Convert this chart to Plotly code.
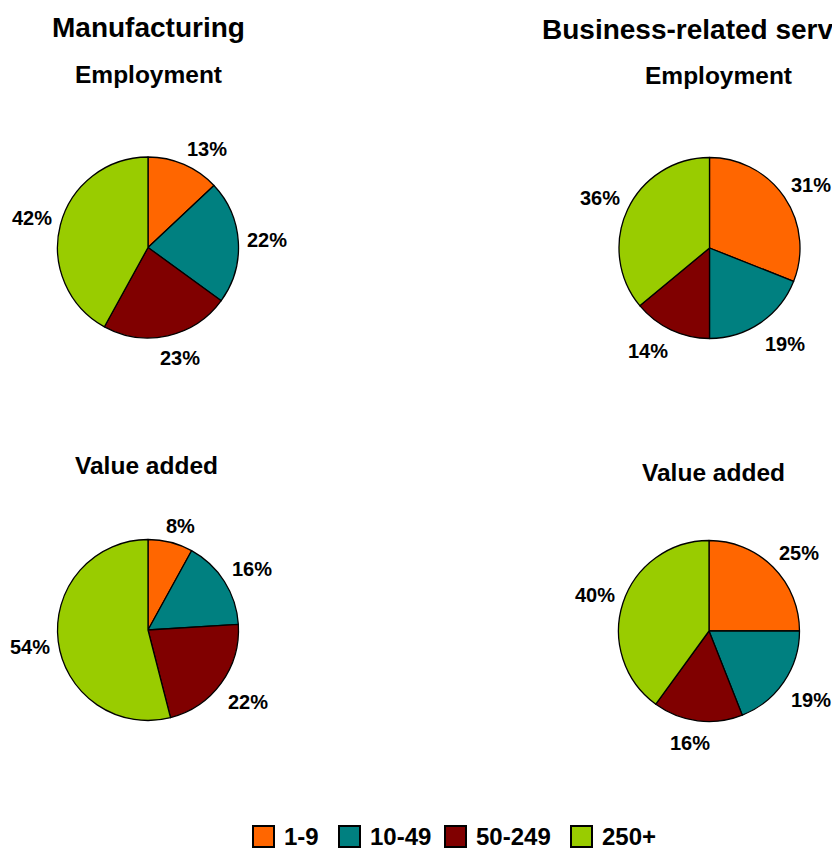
import math
import plotly.graph_objects as go

# Size classes (number of persons employed) and their colours
size_classes = ["1-9", "10-49", "50-249", "250+"]
class_colors = ["#FF6600", "#008080", "#800000", "#99CC00"]

# Shares by size class, in percent
manuf_employment = [13, 22, 23, 42]
manuf_value_added = [8, 16, 22, 54]
services_employment = [31, 19, 14, 36]
services_value_added = [25, 19, 16, 40]

W, H = 832, 849
R = 90.5
FONT = "Liberation Sans, Arial, sans-serif"


def px_x(x):
    return x / W


def px_y(y):
    return 1 - y / H


def soft_sign(v, k=2.5):
    return max(-1.0, min(1.0, v * k))


# pie placement in pixels: (values, centre x, centre y)
pies = [
    (manuf_employment, 148, 247.5),
    (services_employment, 709.5, 248),
    (manuf_value_added, 148, 630),
    (services_value_added, 709, 631),
]

fig = go.Figure()
annotations = []

for values, cx, cy in pies:
    fig.add_trace(go.Pie(
        labels=size_classes,
        values=values,
        sort=False,
        direction="clockwise",
        rotation=0,
        marker=dict(colors=class_colors, line=dict(color="#000000", width=1.3)),
        textinfo="none",
        hoverinfo="label+percent",
        showlegend=False,
        domain=dict(x=[px_x(cx - R), px_x(cx + R)],
                    y=[px_y(cy + R), px_y(cy - R)]),
    ))
    # percentage labels just outside each slice, box corner pointing at the pie
    total = sum(values)
    start = 0.0
    for v in values:
        mid = (start + v / 2) / total * 2 * math.pi
        start += v
        s, c = math.sin(mid), math.cos(mid)
        text = f"{v}%"
        hw = 6.4 * len(text)
        hh = 7 if c > 0 else 13
        lx = cx + (R + 9.5) * s + hw * soft_sign(s)
        ly = cy - (R + 9.5) * c + hh * soft_sign(-c)
        annotations.append(dict(
            x=px_x(lx), y=px_y(ly), xref="paper", yref="paper",
            text=f"<b>{text}</b>", showarrow=False,
            xanchor="center", yanchor="middle",
            font=dict(family=FONT, size=20, color="#000000"),
        ))

# headings
headings = [
    ("Manufacturing", 148, 27, 28, "center"),
    ("Business-related services", 540, 29, 28, "left"),
    ("Employment", 148, 75, 24.5, "center"),
    ("Employment", 718, 76, 24.5, "center"),
    ("Value added", 146, 465, 24.5, "center"),
    ("Value added", 713, 473, 24.5, "center"),
]
for text, x, y, size, anchor in headings:
    annotations.append(dict(
        x=px_x(x), y=px_y(y), xref="paper", yref="paper",
        text=f"<b>{text}</b>", showarrow=False,
        xanchor=anchor, yanchor="middle",
        font=dict(family=FONT, size=size, color="#000000"),
    ))

# legend row at the bottom
shapes = []
legend_x = [253, 339, 445, 571]
legend_y = 836
for name, color, x0 in zip(size_classes, class_colors, legend_x):
    shapes.append(dict(
        type="rect", xref="paper", yref="paper",
        x0=px_x(x0), x1=px_x(x0 + 21),
        y0=px_y(legend_y + 11), y1=px_y(legend_y - 10),
        fillcolor=color, line=dict(color="#000000", width=2),
    ))
    annotations.append(dict(
        x=px_x(x0 + 29), y=px_y(legend_y), xref="paper", yref="paper",
        text=f"<b>{name}</b>", showarrow=False,
        xanchor="left", yanchor="middle",
        font=dict(family=FONT, size=24, color="#000000"),
    ))

fig.update_layout(
    width=W, height=H,
    margin=dict(l=0, r=0, t=0, b=0),
    paper_bgcolor="#FFFFFF",
    plot_bgcolor="#FFFFFF",
    annotations=annotations,
    shapes=shapes,
    showlegend=False,
)

fig.write_html("out.html")
